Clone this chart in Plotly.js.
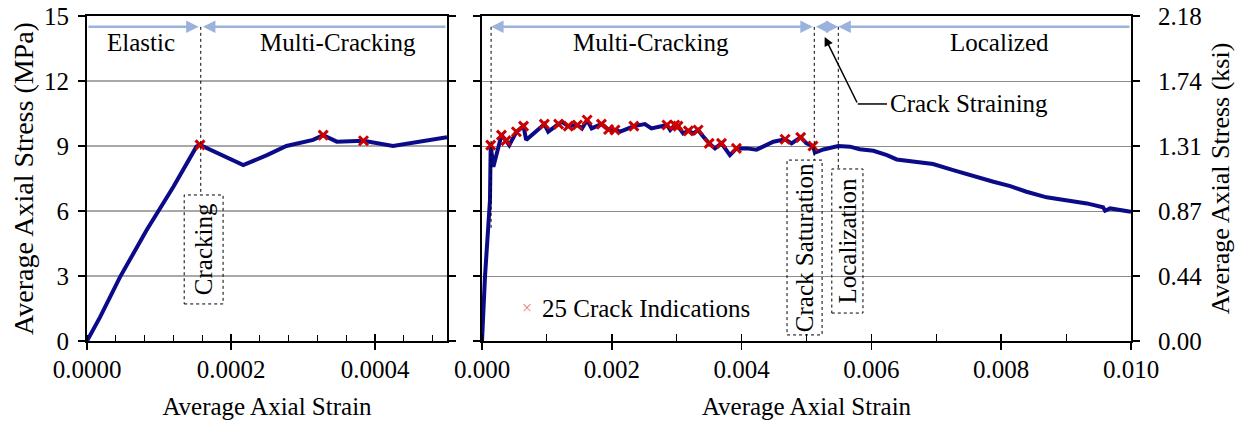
<!DOCTYPE html>
<html><head><meta charset="utf-8">
<script src="https://cdn.plot.ly/plotly-3.0.1.min.js"></script>
<style>html,body{margin:0;padding:0;background:#fff}#chart{width:1242px;height:423px}</style>
</head><body><div id="chart"></div>
<script>
// ---- Data (strain, stress in MPa) ----
const leftStrain = [0, 0.0000181, 0.0000458, 0.0000829, 0.00012, 0.000152, 0.000157, 0.000217, 0.00025, 0.000277, 0.000314, 0.000328, 0.000347, 0.000384, 0.000425, 0.000453, 0.0005];
const leftStress = [0, 1.1, 2.95, 5.12, 7.12, 8.97, 9.05, 8.12, 8.58, 9.0, 9.28, 9.5, 9.2, 9.24, 9.0, 9.15, 9.4];
const leftCrackStrain = [0.000157, 0.000328, 0.000384];
const leftCrackStress = [9.05, 9.5, 9.24];

const rightStrain = [0, 0.000046, 0.000123, 0.000134, 0.000175, 0.0003, 0.00037, 0.00042, 0.00053, 0.00064, 0.00068, 0.00079, 0.00096, 0.00102, 0.00118, 0.00123, 0.00133, 0.00147, 0.00154, 0.00162, 0.00169, 0.00184, 0.00195, 0.00205, 0.00213, 0.00234, 0.00251, 0.00261, 0.00285, 0.0029, 0.00297, 0.00302, 0.0031, 0.00318, 0.00326, 0.00333, 0.00341, 0.0035, 0.00359, 0.00369, 0.00382, 0.00392, 0.00408, 0.00423, 0.00433, 0.00449, 0.00467, 0.00477, 0.00491, 0.005, 0.0051, 0.00513, 0.00526, 0.00549, 0.00567, 0.00582, 0.00603, 0.00624, 0.00639, 0.00665, 0.00695, 0.00726, 0.00757, 0.00788, 0.00814, 0.00839, 0.0087, 0.00901, 0.00932, 0.00957, 0.0096, 0.00968, 0.00978, 0.01];
const rightStress = [0, 2.97, 6.5, 9.04, 8.04, 9.5, 9.25, 9.04, 9.66, 9.92, 9.28, 9.58, 10.01, 9.66, 10.01, 10.12, 9.92, 9.97, 9.81, 10.2, 9.81, 10.01, 9.76, 9.74, 9.66, 9.92, 10.01, 9.81, 9.97, 9.74, 9.97, 9.92, 9.58, 9.7, 9.58, 9.74, 9.43, 9.12, 8.89, 9.12, 8.58, 8.89, 8.89, 8.83, 8.97, 9.2, 9.31, 9.12, 9.4, 9.12, 9.0, 8.69, 8.84, 9.0, 8.97, 8.85, 8.78, 8.58, 8.38, 8.27, 8.17, 7.89, 7.61, 7.35, 7.15, 6.89, 6.63, 6.51, 6.35, 6.17, 6.01, 6.12, 6.08, 5.97];
const rightCrackStrain = [0.000134, 0.0003, 0.00037, 0.00053, 0.00064, 0.00096, 0.00118, 0.00133, 0.00147, 0.00162, 0.00184, 0.00195, 0.00205, 0.00234, 0.00285, 0.00297, 0.00302, 0.00318, 0.00333, 0.0035, 0.00369, 0.00392, 0.00467, 0.00491, 0.0051];
const rightCrackStress = [9.04, 9.5, 9.25, 9.66, 9.92, 10.01, 10.01, 9.92, 9.97, 10.2, 10.01, 9.76, 9.74, 9.92, 9.97, 9.97, 9.92, 9.7, 9.74, 9.12, 9.12, 8.89, 9.31, 9.4, 9.0];

const mpaTicks = [0, 3, 6, 9, 12, 15];
const MPA_TO_KSI = 0.145038;
const ksiTicks = mpaTicks.map(v => v * MPA_TO_KSI);
const ksiLabels = ksiTicks.map(v => v.toFixed(2));

// ---- Styles ----
const FONT = '"Liberation Serif", "Times New Roman", Times, serif';
const NAVY = '#0b0b8a';
const RED = '#cc0000';
const PHASE = '#9bb3dc';
const baseFont = {family: FONT, size: 25, color: '#000'};

const lineTrace = (x, y, xa, ya) => ({x, y, xaxis: xa, yaxis: ya, type: 'scatter', mode: 'lines',
  line: {color: NAVY, width: 4}, showlegend: false, hoverinfo: 'skip'});
const crackTrace = (x, y, xa, ya) => ({x, y, xaxis: xa, yaxis: ya, type: 'scatter', mode: 'markers',
  marker: {symbol: 'x-thin', size: 9, line: {color: RED, width: 3}}, showlegend: false, hoverinfo: 'skip'});

const traces = [
  lineTrace(leftStrain, leftStress, 'x', 'y'),
  crackTrace(leftCrackStrain, leftCrackStress, 'x', 'y'),
  lineTrace(rightStrain, rightStress, 'x2', 'y2'),
  crackTrace(rightCrackStrain, rightCrackStress, 'x2', 'y2'),
  {x: [], y: [], xaxis: 'x3', yaxis: 'y', type: 'scatter', showlegend: false},
  {x: [], y: [], xaxis: 'x4', yaxis: 'y2', type: 'scatter', showlegend: false},
  {x: [], y: [], xaxis: 'x2', yaxis: 'y3', type: 'scatter', showlegend: false}
];

const W = 1242;
const dL = [87 / W, 447 / W];
const dR = [482 / W, 1131 / W];
const axLine = {showline: true, linecolor: '#000', linewidth: 2, zeroline: false};

const layout = {
  width: 1242, height: 423,
  margin: {l: 0, r: 0, t: 16, b: 82},
  paper_bgcolor: '#fff', plot_bgcolor: '#fff',
  font: baseFont, showlegend: false,
  xaxis: Object.assign({}, axLine, {domain: dL, anchor: 'y', range: [0, 0.0005], dtick: 0.0002, tick0: 0,
    tickformat: '.4f', ticks: 'outside', ticklen: 7, tickwidth: 1.5, tickcolor: '#000', mirror: true, showgrid: false,
    minor: {dtick: 0.00004, ticks: 'inside', ticklen: 6, tickwidth: 1, tickcolor: '#000', showgrid: false},
    ticklabelstandoff: -2,
    title: {text: 'Average Axial Strain', font: baseFont, standoff: 15}}),
  xaxis3: {overlaying: 'x', anchor: 'y', range: [0, 0.0005], dtick: 0.0002, tick0: 0, ticks: 'inside', ticklen: 7,
    tickwidth: 1.5, tickcolor: '#000', showticklabels: false, showgrid: false, showline: false, zeroline: false},
  yaxis: Object.assign({}, axLine, {domain: [0, 1], anchor: 'x', range: [0, 15], tickvals: mpaTicks, ticks: 'outside',
    ticklen: 7, tickwidth: 1.5, tickcolor: '#000', mirror: 'ticks', showgrid: true, gridcolor: '#a8a8a8', gridwidth: 1.5,
    ticklabelstandoff: 4,
    title: {text: 'Average Axial Stress (MPa)', font: Object.assign({}, baseFont, {size: 28}), standoff: 2}}),
  xaxis2: Object.assign({}, axLine, {domain: dR, anchor: 'y2', range: [0, 0.010], dtick: 0.002, tick0: 0,
    tickformat: '.3f', ticks: 'outside', ticklen: 7, tickwidth: 1.5, tickcolor: '#000', mirror: true, showgrid: false,
    minor: {dtick: 0.001, ticks: 'inside', ticklen: 7, tickwidth: 1, tickcolor: '#000', showgrid: false},
    ticklabelstandoff: -2,
    title: {text: 'Average Axial Strain', font: baseFont, standoff: 15}}),
  xaxis4: {overlaying: 'x2', anchor: 'y2', range: [0, 0.010], dtick: 0.002, tick0: 0, ticks: 'inside', ticklen: 7,
    tickwidth: 1.5, tickcolor: '#000', showticklabels: false, showgrid: false, showline: false, zeroline: false},
  yaxis2: Object.assign({}, axLine, {domain: [0, 1], anchor: 'x2', range: [0, 15], tickvals: mpaTicks, ticks: 'outside',
    ticklen: 7, tickwidth: 1.5, tickcolor: '#000', showticklabels: false, showgrid: true, gridcolor: '#8c8c8c', gridwidth: 1}),
  yaxis3: Object.assign({}, axLine, {overlaying: 'y2', anchor: 'x2', side: 'right', range: [0, 15 * MPA_TO_KSI],
    tickvals: ksiTicks, ticktext: ksiLabels, ticks: 'outside', ticklen: 7, tickwidth: 1.5, tickcolor: '#000', showgrid: false,
    ticklabelstandoff: 13,
    title: {text: 'Average Axial Stress (ksi)', font: Object.assign({}, baseFont, {size: 26}), standoff: 10}}),
  shapes: [], annotations: []
};

const S = layout.shapes, A = layout.annotations;
const dotLine = (xr, yr, x, y0, y1) => S.push({type: 'line', xref: xr, yref: yr, x0: x, x1: x, y0, y1,
  line: {color: '#000', width: 1, dash: 'dot'}});
const dotBox = (xr, yr, x0, x1, y0, y1) => S.push({type: 'rect', xref: xr, yref: yr, x0, x1, y0, y1,
  line: {color: '#000', width: 1, dash: 'dot'}, fillcolor: 'rgba(255,255,255,0)'});
const phaseArrow = (xr, yr, tail, head, y, both) => A.push({xref: xr, yref: yr, axref: xr, ayref: yr, x: head, y, ax: tail, ay: y,
  text: '', showarrow: true, arrowhead: 2, arrowsize: 1, arrowwidth: 2.5, arrowcolor: PHASE,
  arrowside: both ? 'end+start' : 'end', startarrowhead: 2, startarrowsize: 1, standoff: 0, startstandoff: 0});
const label = (xr, yr, x, y, text, opts) => A.push(Object.assign({xref: xr, yref: yr, x, y, text, showarrow: false,
  font: baseFont}, opts || {}));

const PY = 14.5;
// Left panel phases
phaseArrow('x', 'y', 0, 0.000155, PY);
phaseArrow('x', 'y', 0.0005, 0.000161, PY);
dotLine('x', 'y', 0.000158, PY, 6.74);
dotBox('x', 'y', 0.000135, 0.000189, 1.71, 6.74);
label('x', 'y', 0.000075, 13.8, 'Elastic');
label('x', 'y', 0.000349, 13.8, 'Multi-Cracking');
label('x', 'y', 0.000162, 4.22, 'Cracking', {textangle: -90});

// Right panel phases
phaseArrow('x2', 'y2', 0.00512, 0.00014, PY, true);
phaseArrow('x2', 'y2', 0.00512, 0.00549, PY, true);
phaseArrow('x2', 'y2', 0.0100, 0.00549, PY);
dotLine('x2', 'y2', 0.00014, PY, 5.2);
dotLine('x2', 'y2', 0.00512, PY, 8.35);
dotLine('x2', 'y2', 0.00549, PY, 7.94);
dotBox('x2', 'y2', 0.0047, 0.00524, 0.28, 8.35);
dotBox('x2', 'y2', 0.00539, 0.00587, 1.29, 7.94);
label('x2', 'y2', 0.0026, 13.8, 'Multi-Cracking');
label('x2', 'y2', 0.00798, 13.8, 'Localized');
label('x2', 'y2', 0.00497, 4.31, 'Crack Saturation', {textangle: -90});
label('x2', 'y2', 0.00563, 4.61, 'Localization', {textangle: -90});

// Crack Straining callout
A.push({xref: 'x2', yref: 'y2', axref: 'x2', ayref: 'y2', x: 0.00528, y: 14.03, ax: 0.00579, ay: 10.94, text: '',
  showarrow: true, arrowhead: 2, arrowsize: 1.2, arrowwidth: 1.5, arrowcolor: '#000', standoff: 0});
S.push({type: 'line', xref: 'x2', yref: 'y2', x0: 0.00579, x1: 0.00624, y0: 10.94, y1: 10.94, line: {color: '#000', width: 1.5}});
label('x2', 'y2', 0.00625, 10.94, 'Crack Straining', {xanchor: 'left'});

// Legend-like note
label('x2', 'y2', 0.00069, 1.52, '×', {font: {family: FONT, size: 18, color: '#f08080'}});
label('x2', 'y2', 0.00089, 1.52, '25 Crack Indications', {xanchor: 'left'});

Plotly.newPlot('chart', traces, layout, {staticPlot: true, displayModeBar: false});
</script></body></html>
